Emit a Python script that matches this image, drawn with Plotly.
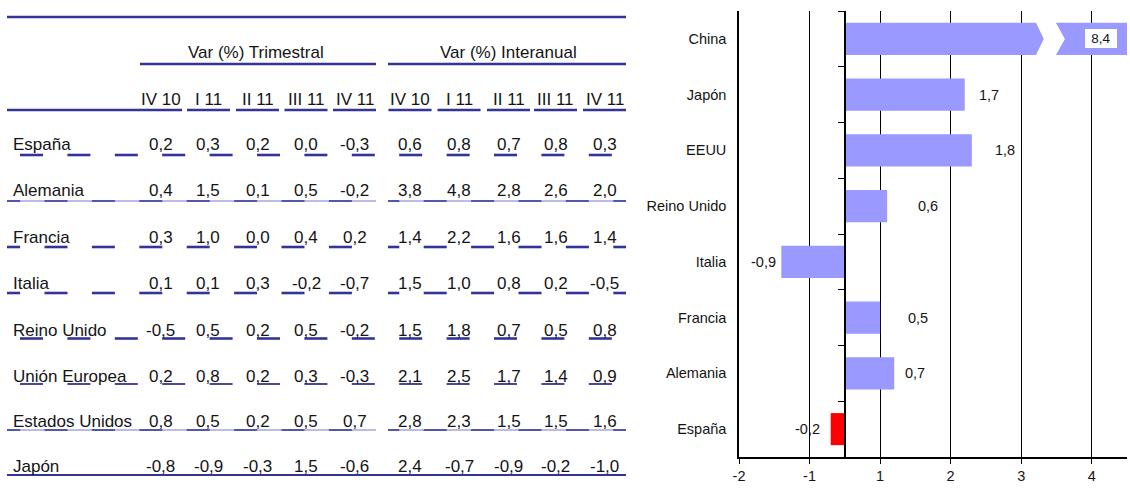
import plotly.graph_objects as go

W, H = 1130, 492

# ---------------- table values (% change) ----------------
table_rows = ["España", "Alemania", "Francia", "Italia", "Reino Unido",
              "Unión Europea", "Estados Unidos", "Japón"]
periods = ["IV 10", "I 11", "II 11", "III 11", "IV 11"]

trim_iv10 = [0.2, 0.4, 0.3, 0.1, -0.5, 0.2, 0.8, -0.8]
trim_i11 = [0.3, 1.5, 1.0, 0.1, 0.5, 0.8, 0.5, -0.9]
trim_ii11 = [0.2, 0.1, 0.0, 0.3, 0.2, 0.2, 0.2, -0.3]
trim_iii11 = [0.0, 0.5, 0.4, -0.2, 0.5, 0.3, 0.5, 1.5]
trim_iv11 = [-0.3, -0.2, 0.2, -0.7, -0.2, -0.3, 0.7, -0.6]

inter_iv10 = [0.6, 3.8, 1.4, 1.5, 1.5, 2.1, 2.8, 2.4]
inter_i11 = [0.8, 4.8, 2.2, 1.0, 1.8, 2.5, 2.3, -0.7]
inter_ii11 = [0.7, 2.8, 1.6, 0.8, 0.7, 1.7, 1.5, -0.9]
inter_iii11 = [0.8, 2.6, 1.6, 0.2, 0.5, 1.4, 1.5, -0.2]
inter_iv11 = [0.3, 2.0, 1.4, -0.5, 0.8, 0.9, 1.6, -1.0]

# ---------------- bar chart values ----------------
bar_countries = ["España", "Alemania", "Francia", "Italia", "Reino Unido",
                 "EEUU", "Japón", "China"]
bar_values = [-0.2, 0.7, 0.5, -0.9, 0.6, 1.8, 1.7, 8.4]
axis_tick_values = [-1.5, -0.5, 0.5, 1.5, 2.5, 3.5]
axis_tick_labels = ["-2", "-1", "1", "2", "3", "4"]

# ---------------- styling ----------------
FONT = "Liberation Sans, Arial, Helvetica, sans-serif"
NAVY = "#333399"
NAVY_LIGHT = "#7a7ac6"
INK = "#141414"
TABLE_FS = 17
CHART_FS = 14.5

# pixel positions of the table layout
COL_X = [160.5, 208.5, 257.5, 306, 354.5, 410, 459, 508.5, 555.5, 604.5]
ROW_Y = [144.5, 190.5, 237, 283.5, 330, 376, 421, 466]
RULE_Y = [155, 201, 247, 293, 338.5, 384, 430, 475]
LABEL_X = 11
TABLE_L, TABLE_R = 7, 626
GAP_L, GAP_R = 376, 388

# distance (px) between bar end and its value label
label_gap = {"España": 9, "Alemania": 9, "Francia": 26, "Italia": 3,
             "Reino Unido": 29, "EEUU": 21, "Japón": 12}


def px(x):
    return x / W


def py(y):
    return 1 - y / H


def fmt(v):
    return f"{v:.1f}".replace(".", ",")


fig = go.Figure()
shapes = []
annotations = []

# ================= bar chart =================
X_RANGE = [-1.5, 4.0]
DOM_X = [739 / W, 1127 / W]
DOM_Y = [1 - 457 / H, 1 - 11 / H]
ypos = list(range(len(bar_countries)))
bar_colors = ["#FF0000" if c == "España" else "#9999FF" for c in bar_countries]
BAR_W = 0.575

fig.add_trace(go.Bar(
    x=bar_values, y=ypos, orientation="h", width=BAR_W,
    marker=dict(color=bar_colors, line=dict(width=0)),
    hoverinfo="skip", showlegend=False,
))
# anchor trace so the category-divider axis at zero is drawn
fig.add_trace(go.Scatter(
    x=[0], y=[0], xaxis="x", yaxis="y2", mode="markers",
    marker=dict(opacity=0), hoverinfo="skip", showlegend=False,
))

zero_pos = DOM_X[0] + (0 - X_RANGE[0]) / (X_RANGE[1] - X_RANGE[0]) * (DOM_X[1] - DOM_X[0])

# axis break on bars that run past the visible range
for yv, v in zip(ypos, bar_values):
    if v > X_RANGE[1]:
        top, bot = yv + BAR_W / 2 + 0.03, yv - BAR_W / 2 - 0.03
        path = (f"M 2.70,{top} L 2.82,{yv} L 2.70,{bot} "
                f"L 2.98,{bot} L 3.12,{yv} L 2.98,{top} Z")
        shapes.append(dict(type="path", xref="x", yref="y", path=path,
                           fillcolor="white", line=dict(width=0), layer="above"))
        annotations.append(dict(
            x=X_RANGE[1], y=yv, xref="x", yref="y", xanchor="right", yanchor="middle",
            xshift=-10, text=fmt(v), showarrow=False, bgcolor="white",
            width=30, height=17, borderpad=1, borderwidth=0,
            font=dict(family=FONT, size=13.5, color=INK),
        ))

for c, yv, v in zip(bar_countries, ypos, bar_values):
    if c not in label_gap:
        continue
    g = label_gap[c]
    annotations.append(dict(
        x=v, y=yv, xref="x", yref="y",
        xanchor="left" if v >= 0 else "right", yanchor="middle",
        xshift=g if v >= 0 else -g, text=fmt(v), showarrow=False,
        font=dict(family=FONT, size=CHART_FS, color=INK),
    ))

# ================= table =================
# top rule
shapes.append(dict(type="line", xref="paper", yref="paper",
                   x0=px(TABLE_L), x1=px(TABLE_R), y0=py(17), y1=py(17),
                   line=dict(color=NAVY, width=2.6)))

# group headers
for title, xc, x0, x1 in [("Var (%) Trimestral", 256, 140, GAP_L),
                          ("Var (%) Interanual", 508, GAP_R, TABLE_R)]:
    annotations.append(dict(x=px(xc), y=py(52.5), xref="paper", yref="paper",
                            text=title, showarrow=False, xanchor="center", yanchor="middle",
                            font=dict(family=FONT, size=TABLE_FS, color=INK)))
    shapes.append(dict(type="line", xref="paper", yref="paper",
                       x0=px(x0), x1=px(x1), y0=py(64), y1=py(64),
                       line=dict(color=NAVY, width=2.6)))

# period headers and their underlines
for i, xc in enumerate(COL_X):
    annotations.append(dict(x=px(xc), y=py(99.5), xref="paper", yref="paper",
                            text=periods[i % 5], showarrow=False,
                            xanchor="center", yanchor="middle",
                            font=dict(family=FONT, size=TABLE_FS, color=INK)))
    x0 = TABLE_L if i == 0 else xc - 21.5
    shapes.append(dict(type="line", xref="paper", yref="paper",
                       x0=px(x0), x1=px(xc + 21.5), y0=py(110), y1=py(110),
                       line=dict(color=NAVY, width=2.6)))

columns = [trim_iv10, trim_i11, trim_ii11, trim_iii11, trim_iv11,
           inter_iv10, inter_i11, inter_ii11, inter_iii11, inter_iv11]

for r, name in enumerate(table_rows):
    annotations.append(dict(x=px(LABEL_X), y=py(ROW_Y[r]), xref="paper", yref="paper",
                            text=name, showarrow=False, xanchor="left", yanchor="middle",
                            font=dict(family=FONT, size=TABLE_FS, color=INK)))
    for c, col in enumerate(columns):
        annotations.append(dict(x=px(COL_X[c]), y=py(ROW_Y[r]), xref="paper", yref="paper",
                                text=fmt(col[r]), showarrow=False,
                                xanchor="center", yanchor="middle",
                                font=dict(family=FONT, size=TABLE_FS, color=INK)))


def dashes(start, a, b, period=47.4, length=23.0):
    out = []
    k = int((a - start) // period) - 1
    while True:
        s = start + k * period
        if s > b:
            break
        lo, hi = max(s, a), min(s + length, b)
        if hi - lo > 0.8:
            out.append((lo, hi))
        k += 1
    return out


def add_rule(y, x0, x1, color, width):
    shapes.append(dict(type="line", xref="paper", yref="paper",
                       x0=px(x0), x1=px(x1), y0=py(y), y1=py(y),
                       line=dict(color=color, width=width)))


PHASE_A, PHASE_B = 20.0, 44.5
row_rule_style = [
    ("dash", PHASE_A, 2.6, NAVY),      # España
    ("thin", PHASE_B, 1.5, NAVY),      # Alemania
    ("dash", PHASE_B, 2.6, NAVY),      # Francia
    ("dash", PHASE_B, 2.6, NAVY),      # Italia
    ("dash", PHASE_A, 2.6, NAVY),      # Reino Unido
    ("dash", PHASE_A, 2.0, "#4646a6"),  # Unión Europea
    ("thin", PHASE_B, 1.5, NAVY),      # Estados Unidos
    ("solid", None, 2.2, NAVY),        # Japón
]

for y, (kind, phase, width, color) in zip(RULE_Y, row_rule_style):
    if kind == "solid":
        add_rule(y, TABLE_L, TABLE_R, color, width)
        continue
    if kind == "thin":
        add_rule(y, TABLE_L, GAP_L, NAVY_LIGHT, 1.0)
        add_rule(y, GAP_R, TABLE_R, NAVY_LIGHT, 1.0)
    for a, b in [(TABLE_L, GAP_L), (GAP_R, TABLE_R)]:
        for lo, hi in dashes(phase, a, b):
            add_rule(y, lo, hi, color, width)

# ================= layout =================
axis_font = dict(family=FONT, size=CHART_FS, color=INK)
fig.update_layout(
    width=W, height=H,
    margin=dict(l=0, r=0, t=0, b=0, pad=0, autoexpand=False),
    paper_bgcolor="white", plot_bgcolor="white",
    showlegend=False,
    xaxis=dict(
        domain=DOM_X, range=X_RANGE, anchor="y", automargin=False,
        tickmode="array", tickvals=axis_tick_values, ticktext=axis_tick_labels,
        showgrid=True, gridcolor="black", gridwidth=1.2,
        zeroline=False, showline=True, linecolor="black", linewidth=1.5,
        ticks="outside", ticklen=5, tickwidth=1.2, tickcolor="black",
        tickfont=axis_font, fixedrange=True,
    ),
    yaxis=dict(
        domain=DOM_Y, range=[-0.5, len(bar_countries) - 0.5], anchor="x", automargin=False,
        tickmode="array", tickvals=ypos, ticktext=bar_countries,
        showgrid=False, zeroline=False, showline=True, linecolor="black", linewidth=1.5,
        ticks="", ticklabelstandoff=8, tickfont=axis_font, fixedrange=True,
    ),
    yaxis2=dict(
        overlaying="y", anchor="free", position=zero_pos, side="left", automargin=False,
        range=[-0.5, len(bar_countries) - 0.5],
        tickmode="array", tickvals=[i - 0.5 for i in range(len(bar_countries) + 1)],
        ticks="outside", ticklen=6, tickwidth=1.2, tickcolor="black",
        showticklabels=False, showgrid=False, zeroline=False,
        showline=True, linecolor="black", linewidth=1.5, fixedrange=True,
    ),
    shapes=shapes,
    annotations=annotations,
)

fig.write_html("out.html")
